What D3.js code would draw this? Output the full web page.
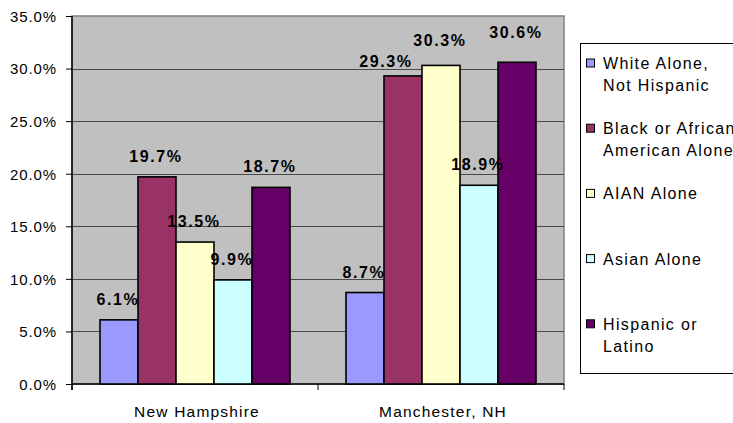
<!DOCTYPE html>
<html><head><meta charset="utf-8">
<script src="https://cdn.jsdelivr.net/npm/d3@7"></script>
<style>
html,body{margin:0;padding:0;background:#fff;overflow:hidden}
svg{display:block;font-family:"Liberation Sans",Arial,sans-serif}
</style></head>
<body>
<script>
const categories = ["New Hampshire", "Manchester, NH"];
const seriesNames = ["White Alone, Not Hispanic", "Black or African American Alone", "AIAN Alone", "Asian Alone", "Hispanic or Latino"];
const legendLines = [["White Alone,", "Not Hispanic"], ["Black or African", "American Alone"], ["AIAN Alone"], ["Asian Alone"], ["Hispanic or", "Latino"]];
const seriesColors = ["#9999FF", "#993366", "#FFFFCC", "#CCFFFF", "#660066"];
const newHampshire = [6.1, 19.7, 13.5, 9.9, 18.7];
const manchester = [8.7, 29.3, 30.3, 18.9, 30.6];
const yTicks = [0, 5, 10, 15, 20, 25, 30, 35];
// manual label adjustments (as in the original, to avoid overlaps): [dx, dy]
const labelNudge = [[[0,0],[0,0],[0,0],[0,0],[0,0]], [[0,0],[-16,6],[0,-4],[0,0],[0,-9]]];

const values = [newHampshire, manchester];
const W = 733, H = 423;
const plot = {l: 72, r: 564, t: 16, b: 384};

const svg = d3.select("body").append("svg").attr("width", W).attr("height", H);

const x0 = d3.scaleBand().domain(categories).range([plot.l, plot.r]).padding(0);
const x1 = d3.scaleBand().domain(d3.range(seriesNames.length)).range([28, x0.bandwidth() - 28]).padding(0);
const y = d3.scaleLinear().domain([0, 35]).range([plot.b, plot.t]);

// plot background
svg.append("rect").attr("x", plot.l).attr("y", plot.t).attr("width", plot.r - plot.l).attr("height", plot.b - plot.t)
  .attr("fill", "#C0C0C0").attr("stroke", "#808080").attr("stroke-width", 1.5);

// gridlines
svg.append("g").selectAll("line").data(yTicks.filter(d => d > 0 && d < 35)).join("line")
  .attr("x1", plot.l).attr("x2", plot.r).attr("y1", d => Math.round(y(d)) + 0.5).attr("y2", d => Math.round(y(d)) + 0.5)
  .attr("stroke", "#4a4a4a").attr("stroke-width", 1);

// y axis
const yAxis = d3.axisLeft(y).tickValues(yTicks).tickSize(6).tickPadding(9).tickFormat(d => d.toFixed(1) + "%");
const gy = svg.append("g").attr("transform", `translate(${plot.l},0)`).call(yAxis);
gy.select(".domain").attr("stroke", "#000").attr("stroke-width", 1.5).attr("d", `M0,${plot.t}V${plot.b + 6}`);
gy.selectAll(".tick line").attr("stroke", "#000");
gy.selectAll(".tick text").attr("font-size", 15).attr("fill", "#000").attr("letter-spacing", "0.9px")
  .attr("font-family", '"Liberation Sans",Arial,sans-serif').attr("dy", "0.36em");

// x axis
const xAxis = d3.axisBottom(x0).tickSize(0).tickPadding(0);
const gx = svg.append("g").attr("transform", `translate(0,${plot.b})`).call(xAxis);
gx.select(".domain").attr("stroke", "#000").attr("stroke-width", 1.5).attr("d", `M${plot.l},0H${plot.r}`);
gx.selectAll(".tick text").attr("font-size", 15.5).attr("fill", "#000").attr("letter-spacing", "1.2px")
  .attr("font-family", '"Liberation Sans",Arial,sans-serif').attr("y", 33).attr("dy", 0).attr("dx", 2);
// category separator ticks
svg.append("g").selectAll("line").data([plot.l, ...categories.map(c => x0(c) + x0.bandwidth())]).join("line")
  .attr("x1", d => d).attr("x2", d => d).attr("y1", plot.b).attr("y2", plot.b + 6)
  .attr("stroke", "#000").attr("stroke-width", 1);

// bars
const groups = svg.append("g").selectAll("g").data(categories).join("g")
  .attr("transform", c => `translate(${x0(c)},0)`);
groups.selectAll("rect").data((c, ci) => values[ci].map((v, si) => ({v, si}))).join("rect")
  .attr("x", d => x1(d.si)).attr("width", x1.bandwidth())
  .attr("y", d => y(d.v)).attr("height", d => y(0) - y(d.v))
  .attr("fill", d => seriesColors[d.si]).attr("stroke", "#000").attr("stroke-width", 1.6);

// data labels
groups.selectAll("text").data((c, ci) => values[ci].map((v, si) => ({v, si, ci}))).join("text")
  .attr("x", d => x1(d.si) + x1.bandwidth() / 2 - 1 + labelNudge[d.ci][d.si][0])
  .attr("y", d => y(d.v) - 15 + labelNudge[d.ci][d.si][1])
  .attr("text-anchor", "middle").attr("font-size", 16).attr("font-weight", "bold")
  .attr("letter-spacing", "1.6px").attr("fill", "#000")
  .text(d => d.v.toFixed(1) + "%");

// legend
const leg = svg.append("g");
leg.append("rect").attr("x", 580.5).attr("y", 43.5).attr("width", 200).attr("height", 330)
  .attr("fill", "#fff").attr("stroke", "#000").attr("stroke-width", 1);
const items = leg.selectAll("g.item").data(seriesNames).join("g").attr("class", "item")
  .attr("transform", (d, i) => `translate(586,${63 + i * 65.2})`);
items.append("rect").attr("x", 0.5).attr("y", -4).attr("width", 8).attr("height", 8)
  .attr("fill", (d, i) => seriesColors[i]).attr("stroke", "#000").attr("stroke-width", 1);
items.append("text").attr("x", 17).attr("font-size", 16).attr("letter-spacing", "1.35px").attr("fill", "#000")
  .selectAll("tspan").data((d, i) => legendLines[i]).join("tspan")
  .attr("x", 17).attr("y", (d, j) => 6 + j * 22).text(d => d);
</script>
</body></html>
